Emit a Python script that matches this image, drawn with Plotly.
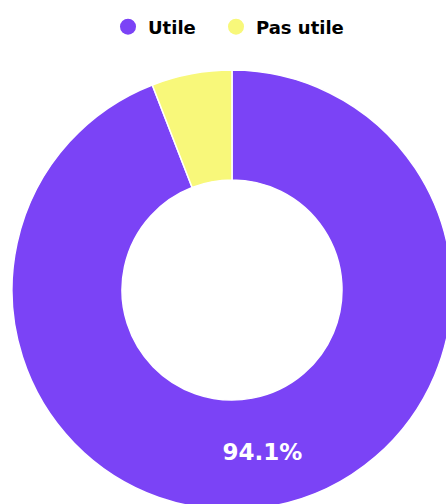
import plotly.graph_objects as go

labels = ["Utile", "Pas utile"]
values = [94.1, 5.9]
colors = ["#7B43F6", "#F8F87A"]

fig = go.Figure()
fig.add_trace(go.Pie(
    labels=labels,
    values=values,
    hole=0.5,
    sort=False,
    direction="clockwise",
    rotation=0,
    marker=dict(colors=colors, line=dict(color="white", width=1.5)),
    texttemplate=["%{percent:.1%}", ""],
    textposition="inside",
    insidetextorientation="horizontal",
    textfont=dict(family="DejaVu Sans", size=23, color="white", weight="bold"),
    showlegend=False,
    hoverinfo="label+percent",
))

legend_lefts = [108, 216]
legend_keys = ["legend", "legend2"]
for lab, col, key in zip(labels, colors, legend_keys):
    fig.add_trace(go.Scatter(
        x=[None], y=[None], mode="markers", name=lab,
        marker=dict(symbol="circle", size=18, color=col),
        showlegend=True, legend=key,
    ))

leg_font = dict(family="DejaVu Sans", size=18, color="black", weight="bold")
legend_layout = {}
for key, left in zip(legend_keys, legend_lefts):
    legend_layout[key] = dict(
        orientation="h", xref="paper", x=(left - 12) / 440, xanchor="left",
        yref="container", y=1 - 27 / 510, yanchor="middle",
        font=leg_font, itemwidth=30,
    )

fig.update_layout(
    width=452, height=510,
    margin=dict(l=12, r=0, t=70, b=0),
    paper_bgcolor="white", plot_bgcolor="white",
    xaxis=dict(visible=False), yaxis=dict(visible=False),
    **legend_layout,
)

fig.write_html(
    "out.html",
    config={"displayModeBar": False},
    post_script="document.body.style.overflow='hidden';document.documentElement.style.overflow='hidden';document.body.style.margin='0';",
)
